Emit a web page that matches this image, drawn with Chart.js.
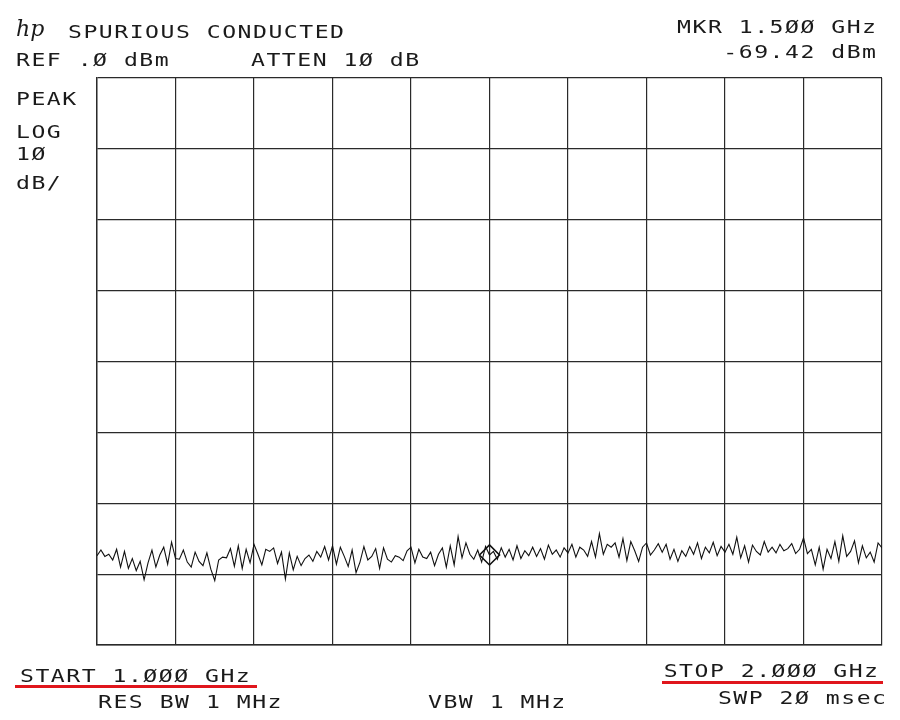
<!DOCTYPE html>
<html>
<head>
<meta charset="utf-8">
<script src="https://cdn.jsdelivr.net/npm/chart.js@4.4.1/dist/chart.umd.min.js"></script>
<style>
html,body{margin:0;padding:0;background:#fff;}
#wrap{width:900px;height:720px;position:relative;}
</style>
</head>
<body>
<div id="wrap"><canvas id="c" width="900" height="720"></canvas></div>
<script>
// Sweep settings
const startGHz = 1.0;
const stopGHz = 2.0;
const refLevel = 0;        // dBm
const dbPerDiv = 10;
const divisionsY = 8;
const divisionsX = 10;

// Trace level (dBm), 201 sweep points
const traceDbm = [
-67.4,-66.6,-67.5,-67.2,-68.0,-66.5,-69.0,-66.8,-69.2,-67.8,-69.5,-68.2,-70.8,-68.4,-66.6,-69.0,-67.3,-66.2,-68.6,-65.5,
-67.8,-67.9,-66.6,-68.3,-69.0,-66.9,-68.2,-68.8,-67.0,-69.3,-70.9,-68.0,-67.6,-67.7,-66.4,-68.9,-66.0,-69.2,-66.5,-68.4,
-65.8,-67.2,-68.7,-66.5,-66.8,-66.3,-68.5,-66.9,-70.7,-67.0,-69.4,-67.5,-68.8,-67.8,-67.3,-68.2,-66.8,-67.6,-66.1,-68.0,
-66.0,-68.6,-66.2,-67.5,-68.9,-66.6,-69.8,-68.3,-66.1,-68.0,-67.5,-66.4,-69.2,-66.3,-67.9,-68.3,-67.4,-67.6,-68.1,-66.7,
-66.2,-68.4,-66.5,-67.6,-67.8,-66.9,-68.8,-67.2,-66.3,-69.0,-66.0,-68.7,-64.7,-67.7,-65.6,-67.2,-67.9,-66.6,-68.3,-66.1,
-67.3,-66.8,-67.9,-66.3,-67.6,-66.5,-68.0,-66.0,-67.8,-66.7,-67.4,-66.2,-67.5,-66.4,-67.9,-65.9,-67.2,-66.6,-67.6,-66.3,
-67.0,-65.8,-67.6,-66.2,-66.6,-67.5,-65.4,-67.6,-64.3,-67.2,-65.8,-66.2,-65.6,-67.6,-65.0,-68.1,-65.4,-66.7,-68.2,-66.2,
-65.6,-67.3,-66.6,-65.7,-66.9,-65.8,-67.9,-66.5,-68.2,-66.7,-67.5,-66.1,-67.2,-65.6,-67.8,-66.2,-67.0,-65.5,-67.4,-66.1,
-66.9,-65.8,-67.2,-64.8,-67.7,-66.0,-68.3,-65.9,-66.8,-67.3,-65.4,-66.9,-66.2,-67.0,-65.8,-66.7,-66.4,-65.7,-67.1,-66.5,
-64.9,-67.1,-66.5,-68.7,-66.2,-69.3,-66.5,-67.8,-65.4,-68.2,-64.6,-67.5,-66.8,-65.3,-68.4,-66.0,-67.7,-66.9,-68.3,-65.6,
-66.3
];

// Marker
const markerGHz = 1.5;
const markerIndex = 100;

// Annotation texts
const titleText = "SPURIOUS CONDUCTED";
const refText = "REF .Ø dBm";
const attenText = "ATTEN 1Ø dB";
const mkrFreqText = "MKR 1.5ØØ GHz";
const mkrLevelText = "-69.42 dBm";
const leftTexts = ["PEAK", "LOG", "1Ø", "dB/"];
const startText = "START 1.ØØØ GHz";
const stopText = "STOP 2.ØØØ GHz";
const rbwText = "RES BW 1 MHz";
const vbwText = "VBW 1 MHz";
const swpText = "SWP 2Ø msec";

const n = traceDbm.length;
const tracePts = traceDbm.map((v, i) => ({x: startGHz + (stopGHz - startGHz) * i / (n - 1), y: v}));
const markerPts = [{x: markerGHz, y: traceDbm[markerIndex]}];

const FONT = "17px 'DejaVu Sans Mono'";
const SX = 1.36;     // horizontal stretch of the plotter lettering
const LS = 1.1;      // letter spacing (before stretch)
function txt(ctx, s, x, y, align) {
  ctx.save();
  ctx.font = FONT;
  ctx.fillStyle = "#1a1a1a";
  ctx.letterSpacing = LS + "px";
  ctx.textBaseline = "alphabetic";
  ctx.textAlign = "left";
  const w = (ctx.measureText(s).width - LS) * SX;
  const xx = align === "right" ? x - w : x;
  ctx.translate(xx, y);
  ctx.scale(SX, 1);
  ctx.fillText(s, 0, 0);
  ctx.restore();
}

const annot = {
  id: "annot",
  afterDraw(chart) {
    const ctx = chart.ctx;
    // hp logo
    ctx.save();
    ctx.font = "italic 22px 'DejaVu Serif'";
    ctx.fillStyle = "#1a1a1a";
    ctx.fillText("hp", 16, 36);
    ctx.restore();
    txt(ctx, titleText, 68, 38);
    txt(ctx, refText, 16, 66);
    txt(ctx, attenText, 251, 66);
    txt(ctx, mkrFreqText, 876, 33, "right");
    txt(ctx, mkrLevelText, 876, 58, "right");
    const ys = [105, 138, 160, 189];
    leftTexts.forEach((s, i) => txt(ctx, s, 16, ys[i]));
    txt(ctx, startText, 20, 682);
    txt(ctx, rbwText, 98, 708);
    txt(ctx, vbwText, 428, 708);
    txt(ctx, stopText, 878, 677, "right");
    txt(ctx, swpText, 886, 704, "right");
    // red underlines
    ctx.save();
    ctx.fillStyle = "#e0161c";
    ctx.fillRect(15, 685, 242, 3);
    ctx.fillRect(662, 681, 221, 3);
    ctx.restore();
  }
};

new Chart(document.getElementById("c"), {
  type: "line",
  data: {
    datasets: [
      {
        data: tracePts,
        borderColor: "#111",
        borderWidth: 1.1,
        pointRadius: 0,
        tension: 0,
        order: 2
      },
      {
        data: markerPts,
        showLine: false,
        pointStyle: "rectRot",
        pointRadius: 10,
        pointBorderColor: "#111",
        pointBorderWidth: 1.6,
        pointBackgroundColor: "rgba(0,0,0,0)",
        order: 1
      }
    ]
  },
  options: {
    responsive: false,
    animation: false,
    layout: {padding: {left: 97, right: 18, top: 78, bottom: 75}},
    plugins: {legend: {display: false}, tooltip: {enabled: false}},
    scales: {
      x: {
        type: "linear",
        min: startGHz,
        max: stopGHz,
        ticks: {display: false, stepSize: (stopGHz - startGHz) / divisionsX},
        grid: {color: "#2a2a2a", lineWidth: 1.2, drawTicks: false},
        border: {color: "#2a2a2a", width: 1.4}
      },
      y: {
        min: refLevel - dbPerDiv * divisionsY,
        max: refLevel,
        ticks: {display: false, stepSize: dbPerDiv},
        grid: {color: "#2a2a2a", lineWidth: 1.2, drawTicks: false},
        border: {color: "#2a2a2a", width: 1.4}
      }
    }
  },
  plugins: [annot]
});
</script>
</body>
</html>
